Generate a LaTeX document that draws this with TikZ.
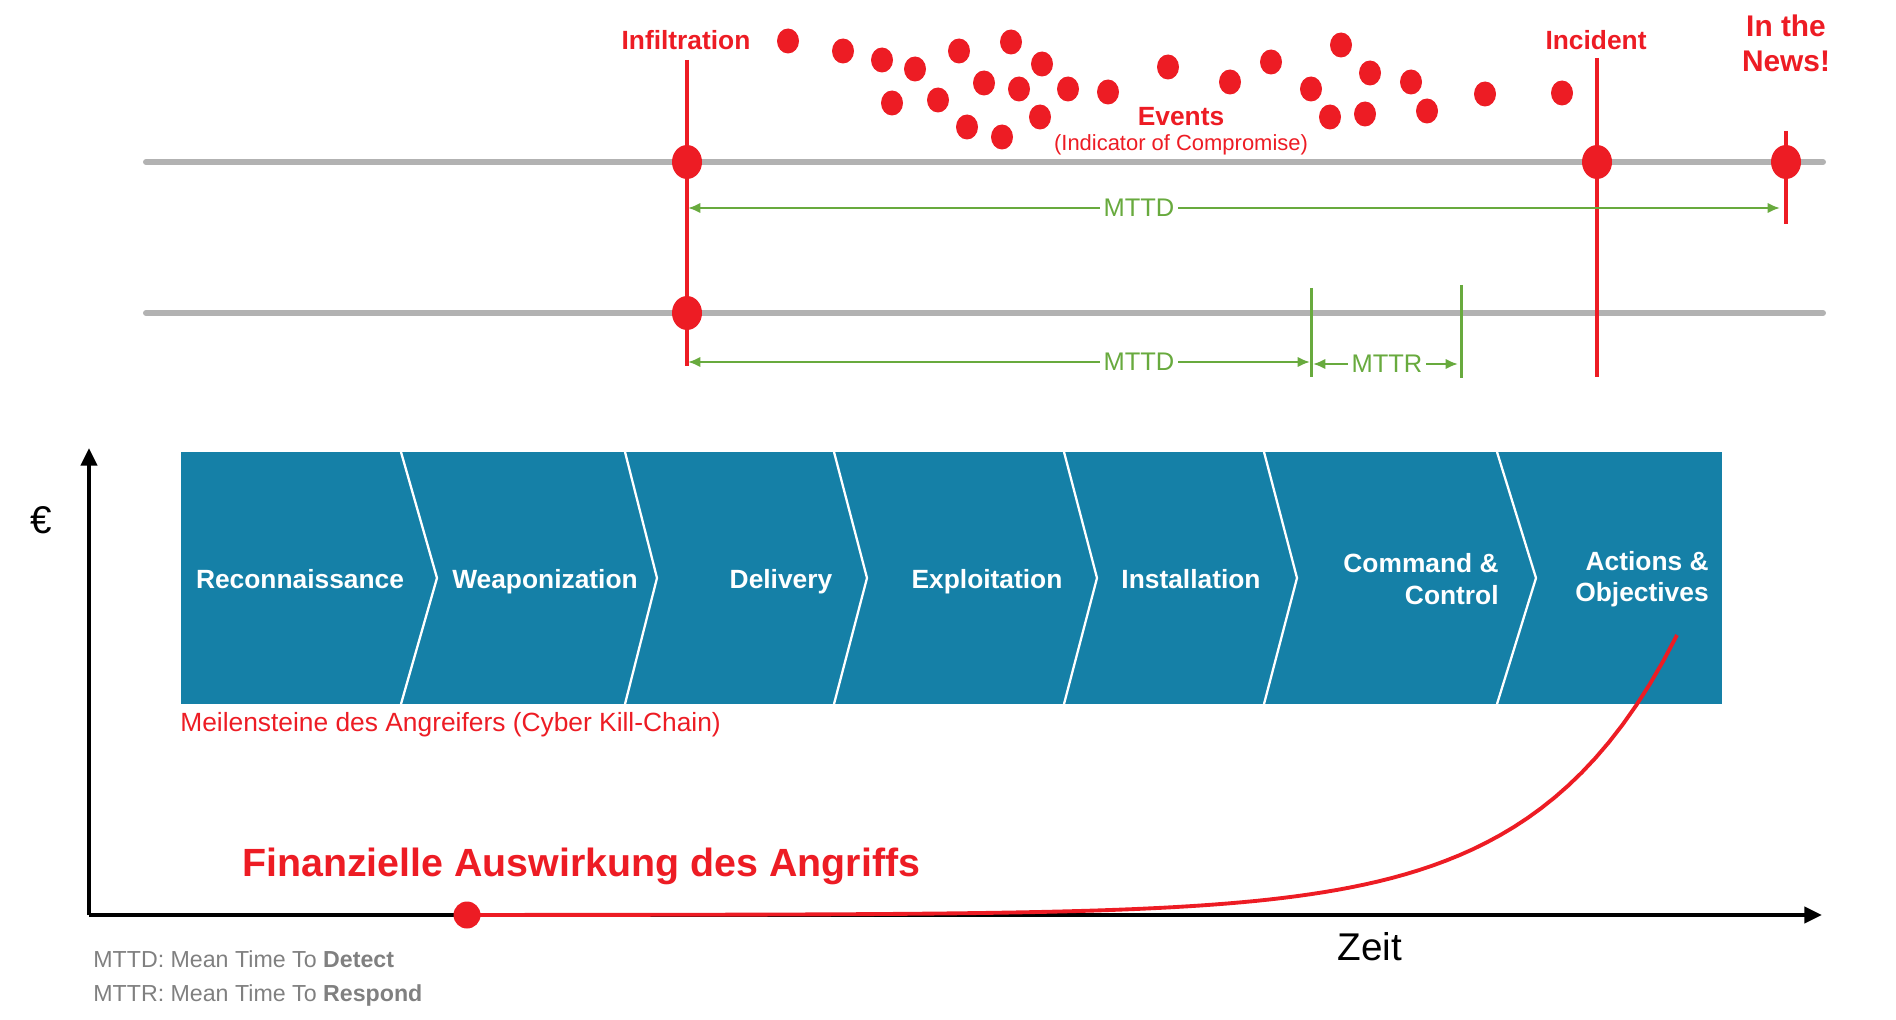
\documentclass[tikz,border=0pt]{standalone}
\usepackage{fontspec}
\setmainfont{Liberation Sans}
\usepackage{tikz}
\usetikzlibrary{arrows.meta, shapes.geometric, positioning}
\definecolor{alarmRed}{RGB}{237, 28, 36}
\definecolor{chainBlue}{RGB}{21, 128, 167}
\definecolor{spanGreen}{RGB}{104, 170, 62}
\definecolor{lineGray}{RGB}{178, 178, 178}
\definecolor{noteGray}{RGB}{128, 128, 128}

\begin{document}
\begin{tikzpicture}[
        x=0.02cm, y=-0.02cm,
        redlbl/.style={text=alarmRed, inner sep=0pt, font=\fontsize{15}{18}\selectfont\bfseries},
        bigdot/.style={ellipse, fill=alarmRed, minimum width=0.6cm, minimum height=0.68cm, inner sep=0pt},
        evdot/.style={ellipse, fill=alarmRed, minimum width=0.44cm, minimum height=0.5cm, inner sep=0pt},
        timeline/.style={lineGray, line width=3.4pt, line cap=round},
        redline/.style={alarmRed, line width=1.9pt},
        span/.style={{Latex[length=7pt,width=6pt]}-{Latex[length=7pt,width=6pt]}, spanGreen, line width=1.7pt},
        spanlbl/.style={fill=white, text=spanGreen, inner sep=2pt, font=\fontsize{14.5}{17}\selectfont},
        greentick/.style={spanGreen, line width=1.7pt},
        chevlbl/.style={text=white, inner sep=0pt, anchor=base, font=\fontsize{15}{18}\selectfont\bfseries},
        chevlbltwo/.style={text=white, inner sep=0pt, align=right, anchor=east, font=\fontsize{15}{18}\selectfont\bfseries},
        axisline/.style={-{Triangle[length=10pt,width=9pt]}, line width=2.6pt},
        note/.style={text=noteGray, inner sep=0pt, anchor=west, font=\fontsize{13.2}{15}\selectfont}
    ]
        \useasboundingbox (0,0) rectangle (1896,1020);

        % Timelines
        \coordinate (tlAstart) at (146,162);
        \coordinate (tlAend) at (1823,162);
        \coordinate (tlBstart) at (146,313);
        \coordinate (tlBend) at (1823,313);
        \draw[timeline] (tlAstart) -- (tlAend);
        \draw[timeline] (tlBstart) -- (tlBend);

        % Milestones
        \coordinate (inftop) at (687,60);
        \coordinate (infbot) at (687,366);
        \coordinate (inctop) at (1597,58);
        \coordinate (incbot) at (1597,377);
        \coordinate (newstop) at (1786,131);
        \coordinate (newsbot) at (1786,224);
        \draw[redline] (inftop) -- (infbot);
        \draw[redline] (inctop) -- (incbot);
        \draw[redline] (newstop) -- (newsbot);

        \node[bigdot] (infdotA) at (687,162) {};
        \node[bigdot] (infdotB) at (687,313) {};
        \node[bigdot] (incdot) at (1597,162) {};
        \node[bigdot] (newsdot) at (1786,162) {};

        \node[redlbl] (inflbl) at (686,40) {Infiltration};
        \node[redlbl] (inclbl) at (1596,40) {Incident};
        \node[redlbl, align=center, font=\fontsize{17}{20}\selectfont\bfseries] (newslbl) at (1786,43) {In the\\News!};

        % Events
        \foreach \x/\y [count=\i] in {788/41, 843/51, 882/60, 915/69, 959/51, 1011/42, 1042/64,
                984/83, 1019/89, 1068/89, 1108/92, 892/103, 938/100, 967/127, 1002/137,
                1040/117, 1168/67, 1230/82, 1271/62, 1311/89, 1341/45, 1370/73, 1411/82,
                1330/117, 1365/114, 1427/111, 1485/94, 1562/93}
            \node[evdot] (ev\i) at (\x,\y) {};
        \node[redlbl] (evlbl) at (1181,117) {Events};
        \node[redlbl, font=\fontsize{12.5}{15}\selectfont] (ioclbl) at (1181,145) {(Indicator of Compromise)};

        % MTTD / MTTR
        \coordinate (mttdAstart) at (688,208);
        \coordinate (mttdAend) at (1780,208);
        \coordinate (mttdBstart) at (688,362);
        \coordinate (mttdBend) at (1310,362);
        \coordinate (mttrstart) at (1313,364);
        \coordinate (mttrend) at (1458,364);
        \coordinate (detecttop) at (1311,288);
        \coordinate (detectbot) at (1311,377);
        \coordinate (respondtop) at (1461,285);
        \coordinate (respondbot) at (1461,378);
        \draw[greentick] (detecttop) -- (detectbot);
        \draw[greentick] (respondtop) -- (respondbot);
        \draw[span] (mttdAstart) -- node[spanlbl, pos=0.413] (mttdlblA) {MTTD} (mttdAend);
        \draw[span] (mttdBstart) -- node[spanlbl, pos=0.725] (mttdlblB) {MTTD} (mttdBend);
        \draw[span] (mttrstart) -- node[spanlbl, pos=0.51] (mttrlbl) {MTTR} (mttrend);

        % Cyber Kill-Chain
        \fill[chainBlue] (181,452) rectangle (1722,704);
        \foreach \t/\m in {401/437, 625/657, 834/867, 1064/1097, 1264/1297, 1497/1536}
            \draw[white, line width=1.3pt] (\t,452) -- (\m,578) -- (\t,704);
        \node[chevlbl] (recon) at (300,588) {Reconnaissance};
        \node[chevlbl] (weapon) at (545,588) {Weaponization};
        \node[chevlbl] (deliv) at (781,588) {Delivery};
        \node[chevlbl] (exploit) at (987,588) {Exploitation};
        \node[chevlbl] (install) at (1191,588) {Installation};
        \node[chevlbltwo] (cnc) at (1499,579) {Command \&\\Control};
        \node[chevlbltwo] (actobj) at (1709,579) {Actions \&\\Objectives};
        \node[redlbl, anchor=west, font=\fontsize{15}{18}\selectfont] (chainlbl) at (180,725) {Meilensteine des Angreifers (Cyber Kill-Chain)};

        % Axes
        \coordinate (origin) at (89,915);
        \coordinate (ytop) at (89,448);
        \coordinate (xend) at (1822,915);
        \draw[axisline] (origin) -- (ytop);
        \draw[axisline] (origin) -- (xend);
        \node[inner sep=0pt, font=\fontsize{22}{24}\selectfont] (euro) at (41,520) {€};
        \node[inner sep=0pt, font=\fontsize{22}{24}\selectfont] (zeit) at (1370,947) {Zeit};

        % Financial impact
        \draw[alarmRed, line width=2.2pt] plot[domain=467:1677, samples=90] (\x, {915-280*exp(0.0071*(\x-1677))});
        \node[circle, fill=alarmRed, minimum size=0.54cm, inner sep=0pt] (costdot) at (467,915) {};
        \node[redlbl, anchor=west, font=\fontsize{22.4}{26}\selectfont\bfseries] (costlbl) at (242,866) {Finanzielle Auswirkung des Angriffs};

        % Legend
        \node[note] (noteA) at (93,959) {MTTD: Mean Time To \textbf{Detect}};
        \node[note] (noteB) at (93,995) {MTTR: Mean Time To \textbf{Respond}};
    \end{tikzpicture}
\end{document}
